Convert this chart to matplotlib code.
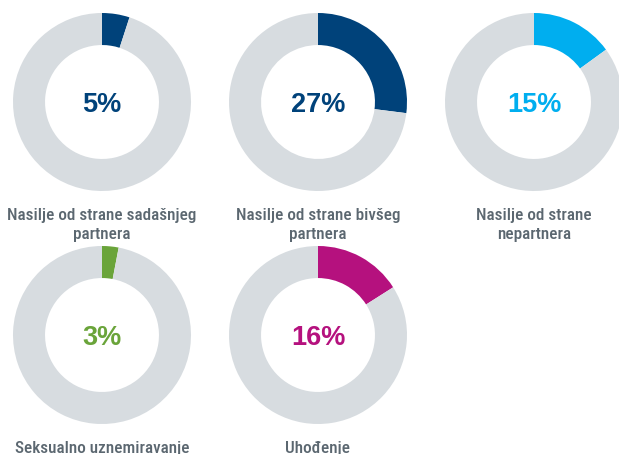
import matplotlib.pyplot as plt

# data
labels = ['Nasilje od strane sadašnjeg\npartnera', 'Nasilje od strane bivšeg\npartnera',
          'Nasilje od strane\nnepartnera', 'Seksualno uznemiravanje', 'Uhođenje']
values = [5, 27, 15, 3, 16]
colors = ['#00427a', '#00427a', '#00aeef', '#6aa43a', '#b5117e']
rest_color = '#d7dce0'

W, H = 619, 454
fig = plt.figure(figsize=(W / 100, H / 100), dpi=100)

# donut centres in pixels (x, y from top)
centers = [(102, 102), (318, 102), (534, 102), (102, 335), (318, 335)]
R = 89
line_px = 19

for lab, val, col, (cx, cy) in zip(labels, values, colors, centers):
    ax = fig.add_axes([(cx - R) / W, 1 - (cy + R) / H, 2 * R / W, 2 * R / H])
    ax.pie([val, 100 - val], colors=[col, rest_color], startangle=90,
           counterclock=False, radius=1, wedgeprops=dict(width=0.36, linewidth=0))
    ax.set_xlim(-1, 1)
    ax.set_ylim(-1, 1)
    ax.set_aspect('equal')
    ax.axis('off')
    ax.text(0, -0.035, f'{val}%', ha='center', va='center', fontsize=19.5,
            fontweight='bold', color=col, family='Liberation Sans')
    # baseline of the last line of the caption
    base = cy + R + 28.5 + line_px * lab.count('\n')
    fig.text(cx / W, 1 - base / H, lab, ha='center', va='baseline',
             fontsize=12.3, fontweight='medium', color='#5b6770', linespacing=1.3,
             family=['Roboto Condensed', 'DejaVu Sans'])

fig.savefig('out.png', dpi=100)
